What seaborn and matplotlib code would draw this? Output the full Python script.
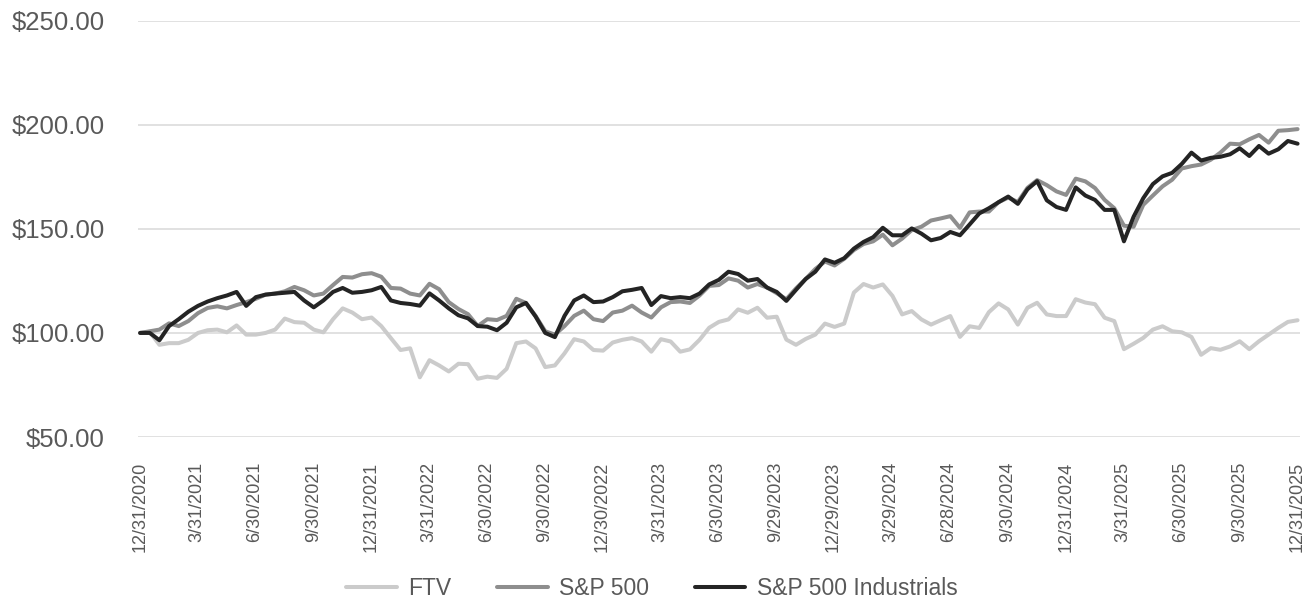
import pandas as pd
import matplotlib.pyplot as plt
import matplotlib.ticker as mticker
import seaborn as sns

# Cumulative value of $100 invested (about every two weeks)
ftv = [100, 100.5, 94.3, 95.1, 95.1, 96.7, 100, 101.3, 101.6, 100.3,
       103.6, 99.2, 99.2, 100, 101.6, 106.9, 105.2, 104.9, 101.6, 100.3,
       106.6, 111.8, 109.8, 106.6, 107.4, 103.3, 97.5, 91.8, 92.6, 78.7,
       86.9, 84.4, 81.5, 85.2, 85, 78, 79, 78.4, 82.8, 95.1,
       95.9, 92.6, 83.6, 84.4, 90.2, 97, 95.9, 91.8, 91.5, 95.4,
       96.7, 97.5, 95.9, 91, 97, 95.9, 91, 92.1, 96.7, 102.5,
       105.3, 106.5, 111.3, 109.7, 112.1, 107.3, 107.8, 96.8, 94.3, 97.1,
       99.2, 104.5, 102.9, 104.5, 119.4, 123.5, 121.8, 123.3, 117.8, 108.9,
       110.5, 106.5, 104, 106.1, 108.1, 98.1, 103.2, 102.4, 110, 114.2,
       111.3, 104, 112.1, 114.5, 108.9, 108.1, 108.1, 116.2, 114.6, 113.8,
       107.3, 105.7, 92.2, 94.8, 97.6, 101.6, 103.2, 100.8, 100.3, 98.1,
       89.5, 92.7, 91.9, 93.5, 96, 92.2, 96, 99.2, 102.4, 105.3, 106.1]

sp500 = [100, 100.8, 101.6, 104.6, 103.3, 105.7, 109.5, 112, 112.8, 111.8,
         113.4, 114.8, 116.4, 118.4, 118.9, 120, 122.1, 120.5, 118, 118.9,
         123, 126.9, 126.6, 128.2, 128.7, 127, 121.6, 121.3, 118.9, 118,
         123.6, 121, 114.8, 111.5, 109, 103.3, 106.6, 106.2, 108.2, 116.4,
         114.4, 108.2, 100.8, 99.2, 103.3, 108.2, 110.7, 106.6, 105.7, 109.8,
         110.7, 113.1, 109.8, 107.4, 112.3, 114.8, 115.1, 114.4, 118, 122.6,
         123, 126.2, 125.1, 121.8, 123.5, 121.8, 119.1, 116.2, 121.4, 125.9,
         130.7, 134.3, 132.4, 135.6, 139.8, 142.7, 144, 147.2, 142.1, 145.3,
         149.4, 151, 154, 155, 156.1, 150.5, 157.9, 158.3, 158.3, 162.8,
         165, 162.9, 169.7, 173.4, 171, 168, 166.3, 174.1, 172.8, 169.6,
         163.9, 159.9, 151.5, 151, 161.5, 166, 170.4, 173.6, 179, 180.1,
         180.9, 183.2, 186.6, 190.9, 190.6, 193, 195.1, 191.4, 197.1, 197.4, 197.9]

sp500_ind = [100, 100, 96.5, 103.3, 106.6, 110.2, 113, 115.1, 116.7, 118,
             119.7, 113, 117.2, 118.4, 118.9, 119.3, 119.7, 115.6, 112.3, 115.6,
             119.7, 121.6, 119.3, 119.7, 120.5, 122.1, 115.6, 114.4, 113.9, 113.1,
             119, 115.6, 111.8, 108.5, 107, 103.3, 103, 101.3, 104.9, 112.3,
             114.4, 107.9, 100, 98, 108.2, 115.6, 118, 114.8, 115.1, 117.2,
             120, 120.7, 121.6, 113.4, 117.7, 116.7, 117.2, 116.7, 118.9, 123.3,
             125.5, 129.4, 128.3, 125.1, 125.9, 121.8, 119.7, 115.4, 120.7, 125.9,
             129.4, 135.3, 133.7, 135.9, 140.5, 143.7, 146, 150.5, 146.9, 146.9,
             150.2, 147.7, 144.5, 145.6, 148.5, 146.9, 152.1, 157.4, 159.9, 162.8,
             165.5, 162, 169, 172.9, 163.7, 160.5, 159.1, 169.9, 166, 163.9,
             159.1, 159.1, 144, 155.8, 164.7, 171.5, 175.2, 176.9, 181.2, 186.6,
             182.8, 184.1, 184.6, 185.8, 188.7, 185, 189.8, 186.1, 188.2, 192.2, 190.9]

tick_labels = ["12/31/2020", "3/31/2021", "6/30/2021", "9/30/2021", "12/31/2021",
               "3/31/2022", "6/30/2022", "9/30/2022", "12/30/2022", "3/31/2023",
               "6/30/2023", "9/29/2023", "12/29/2023", "3/29/2024", "6/28/2024",
               "9/30/2024", "12/31/2024", "3/31/2025", "6/30/2025", "9/30/2025",
               "12/31/2025"]

series_names = ["FTV", "S&P 500", "S&P 500 Industrials"]
colors = {"FTV": "#cbcbcb", "S&P 500": "#8e8e8e", "S&P 500 Industrials": "#242424"}

dates = pd.date_range("2020-12-31", "2025-12-31", periods=len(ftv))
df = pd.DataFrame({"Date": dates, "FTV": ftv, "S&P 500": sp500,
                   "S&P 500 Industrials": sp500_ind})
long_df = df.melt(id_vars="Date", var_name="Series", value_name="Value")

sns.set_style("white")
plt.rcParams["font.family"] = ["Liberation Sans", "DejaVu Sans"]

fig = plt.figure(figsize=(13.04, 6.07), dpi=100)
ax = fig.add_axes([0.106, 0.280, 0.891, 0.686])

sns.lineplot(data=long_df, x="Date", y="Value", hue="Series",
             hue_order=series_names, palette=colors, linewidth=2.9, ax=ax)

ax.set_ylim(50, 250)
ax.yaxis.set_major_locator(mticker.MultipleLocator(50))
ax.yaxis.set_major_formatter(mticker.FuncFormatter(lambda v, p: f"${v:,.2f}"))
ax.grid(axis="y", color="#d9d9d9", linewidth=1.1)
ax.set_axisbelow(True)

ax.set_xlim(pd.Timestamp("2020-12-28"), pd.Timestamp("2026-01-04"))
ax.set_xticks(pd.to_datetime(tick_labels))
ax.set_xticklabels(tick_labels, rotation=90)

ax.tick_params(axis="y", length=0, pad=24, labelsize=18.5, labelcolor="#595959")
ax.tick_params(axis="x", length=0, pad=18, labelsize=13, labelcolor="#595959")
ax.set_xlabel("")
ax.set_ylabel("")
sns.despine(ax=ax, left=True, bottom=True)

handles, labels = ax.get_legend_handles_labels()
ax.legend_.remove()
fig.legend(handles, labels, loc="lower center", bbox_to_anchor=(0.5, -0.022),
           ncol=3, frameon=False, fontsize=16.5, handlelength=2.2,
           columnspacing=2.0, handletextpad=0.5, labelcolor="#595959")

fig.savefig("out.png", dpi=100)
